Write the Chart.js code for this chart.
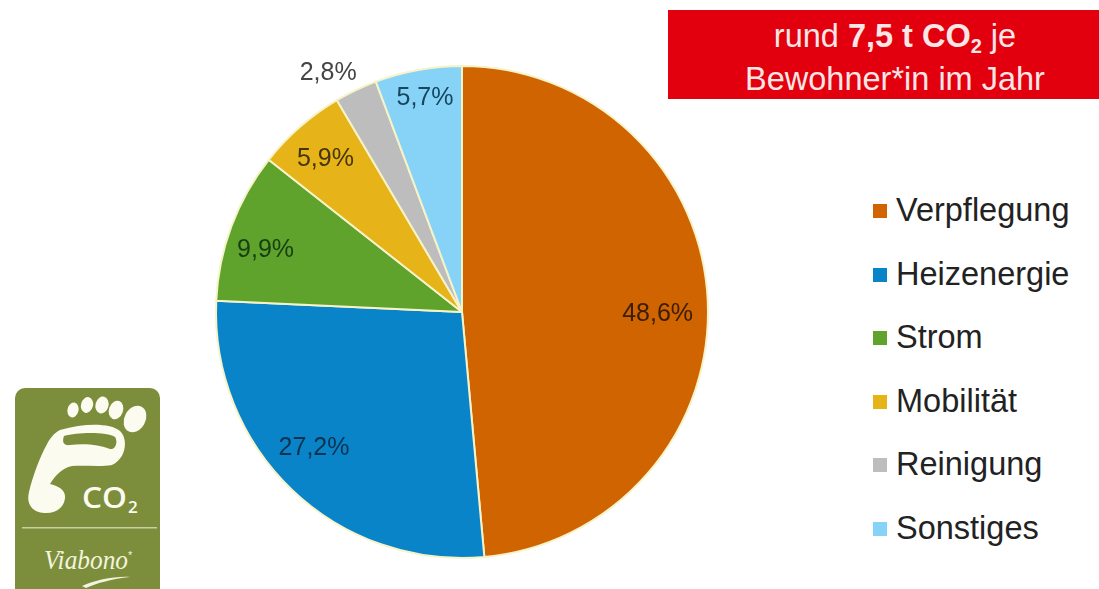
<!DOCTYPE html>
<html lang="de">
<head>
<meta charset="utf-8">
<title>CO2-Fußabdruck</title>
<script src="https://cdn.jsdelivr.net/npm/chart.js@4"></script>
<style>
  html, body { margin: 0; padding: 0; background: #fff; }
  body { position: relative; width: 1099px; height: 589px; overflow: hidden; font-family: "Liberation Sans", Arial, sans-serif; }
  #pieWrap { position: absolute; left: 212px; top: 32px; width: 500px; height: 560px; }
  #banner { position: absolute; left: 668px; top: 10px; width: 431px; height: 89px; background: #e2000f; color: #fbe6e6;
            font-size: 32.5px; line-height: 43px; text-align: center; padding-top: 5px; box-sizing: border-box; padding-left: 23px; white-space: nowrap; }
  #banner sub { font-size: 20px; line-height: 0; vertical-align: -6px; font-weight: bold; }
  #legend { position: absolute; left: 873px; top: 179px; margin: 0; padding: 0; list-style: none; color: #222; font-size: 32.5px; }
  #legend li { height: 63.6px; line-height: 63.6px; white-space: nowrap; }
  #legend i { display: inline-block; width: 14px; height: 14px; margin-right: 9px; vertical-align: 3px; }
  #logo { position: absolute; left: 15px; top: 388px; }
</style>
</head>
<body>
<div id="pieWrap"><canvas id="footprintChart" width="500" height="560"></canvas></div>
<div id="banner">rund <b>7,5 t CO<sub>2</sub></b> je<br>Bewohner*in im Jahr</div>
<ul id="legend"></ul>

<!-- Viabono badge -->
<svg id="logo" width="146" height="201" viewBox="15 388 146 201">
  <path d="M15 398 a10 10 0 0 1 10-10 h125 a10 10 0 0 1 10 10 v191 h-145 z" fill="#7c8e3b"/>
  <g fill="#fbfbef">
    <ellipse cx="73" cy="410" rx="5.5" ry="7.5" transform="rotate(15 73 410)"/>
    <ellipse cx="87" cy="405" rx="6" ry="8" transform="rotate(15 87 405)"/>
    <ellipse cx="102" cy="405" rx="6.5" ry="8.5" transform="rotate(15 102 405)"/>
    <ellipse cx="116" cy="410" rx="7" ry="9.5" transform="rotate(20 116 410)"/>
    <ellipse cx="135" cy="419" rx="10.5" ry="14" transform="rotate(28 135 419)"/>
    <path fill-rule="evenodd" d="M60 430 C85 423 110 423 120 431 C128 438 127 458 112 465 C100 467 85 465 72 466 C62 468 55 476 50 484 C58 486 66 490 65 498 C64 508 55 514 44 513 C32 512 26 504 29 492 C33 475 40 457 46 446 C50 438 54 433 60 430 Z
      M64 436 C62 441 63 446 70 445 C85 443 100 445 110 449 C116 450 118 441 115 437 C108 432 78 432 64 436 Z"/>
  </g>
  <text x="82" y="508" fill="#fbfbef" font-family="Open Sans, Liberation Sans, sans-serif" font-size="29" font-weight="600" textLength="45" lengthAdjust="spacingAndGlyphs">CO</text>
  <text x="128" y="513" fill="#fbfbef" font-family="Open Sans, Liberation Sans, sans-serif" font-size="17" font-weight="600">2</text>
  <rect x="22" y="527" width="135" height="1.5" fill="#c9d0a2"/>
  <text x="44" y="569" fill="#f3f4df" font-family="Liberation Serif, serif" font-style="italic" font-size="27" textLength="84" lengthAdjust="spacingAndGlyphs">Viabono</text>
  <text x="128" y="559" fill="#f3f4df" font-family="Liberation Sans, sans-serif" font-size="11">*</text>
  <path d="M82 586 C95 580 115 576 130 577 C112 579 97 583 86 588 Z" fill="#f3f4df"/>
</svg>

<script>
const categories = ['Verpflegung', 'Heizenergie', 'Strom', 'Mobilität', 'Reinigung', 'Sonstiges'];
const shares = [48.6, 27.2, 9.9, 5.9, 2.8, 5.7];
const sliceColors = ['#cf6400', '#0a84c8', '#5fa22c', '#e6b319', '#bdbdbd', '#87d3f8'];
const labelColors = ['#3a1d05', '#0b3350', '#173f12', '#46350a', '#454545', '#17465f'];
// pixel nudges for the value labels, relative to the point at 80% of the radius
const labelNudge = [[-1, 11], [-12, -6], [-12, 7], [-7, -5], [-49, -61], [-2, -20]];

// percent labels with a German decimal comma, drawn on top of the slices
const sliceLabels = {
  id: 'sliceLabels',
  afterDatasetsDraw(chart) {
    const { ctx } = chart;
    ctx.save();
    ctx.font = '25px "Liberation Sans", Arial, sans-serif';
    ctx.textAlign = 'center';
    ctx.textBaseline = 'middle';
    chart.getDatasetMeta(0).data.forEach((arc, i) => {
      const mid = (arc.startAngle + arc.endAngle) / 2;
      const r = arc.outerRadius * 0.8;
      const x = arc.x + Math.cos(mid) * r + labelNudge[i][0];
      const y = arc.y + Math.sin(mid) * r + labelNudge[i][1];
      ctx.fillStyle = labelColors[i];
      ctx.fillText(shares[i].toFixed(1).replace('.', ',') + '%', x, y);
    });
    ctx.restore();
  }
};

new Chart(document.getElementById('footprintChart').getContext('2d'), {
  type: 'pie',
  data: {
    labels: categories,
    datasets: [{
      data: shares,
      backgroundColor: sliceColors,
      borderColor: '#f6f3c8',
      borderWidth: 2
    }]
  },
  options: {
    responsive: false,
    animation: false,
    layout: { padding: 3 },
    plugins: { legend: { display: false }, tooltip: { enabled: false } }
  },
  plugins: [sliceLabels]
});

// legend next to the pie
const legend = document.getElementById('legend');
categories.forEach((name, i) => {
  const li = document.createElement('li');
  li.innerHTML = `<i style="background:${sliceColors[i]}"></i>${name}`;
  legend.appendChild(li);
});
</script>
</body>
</html>
